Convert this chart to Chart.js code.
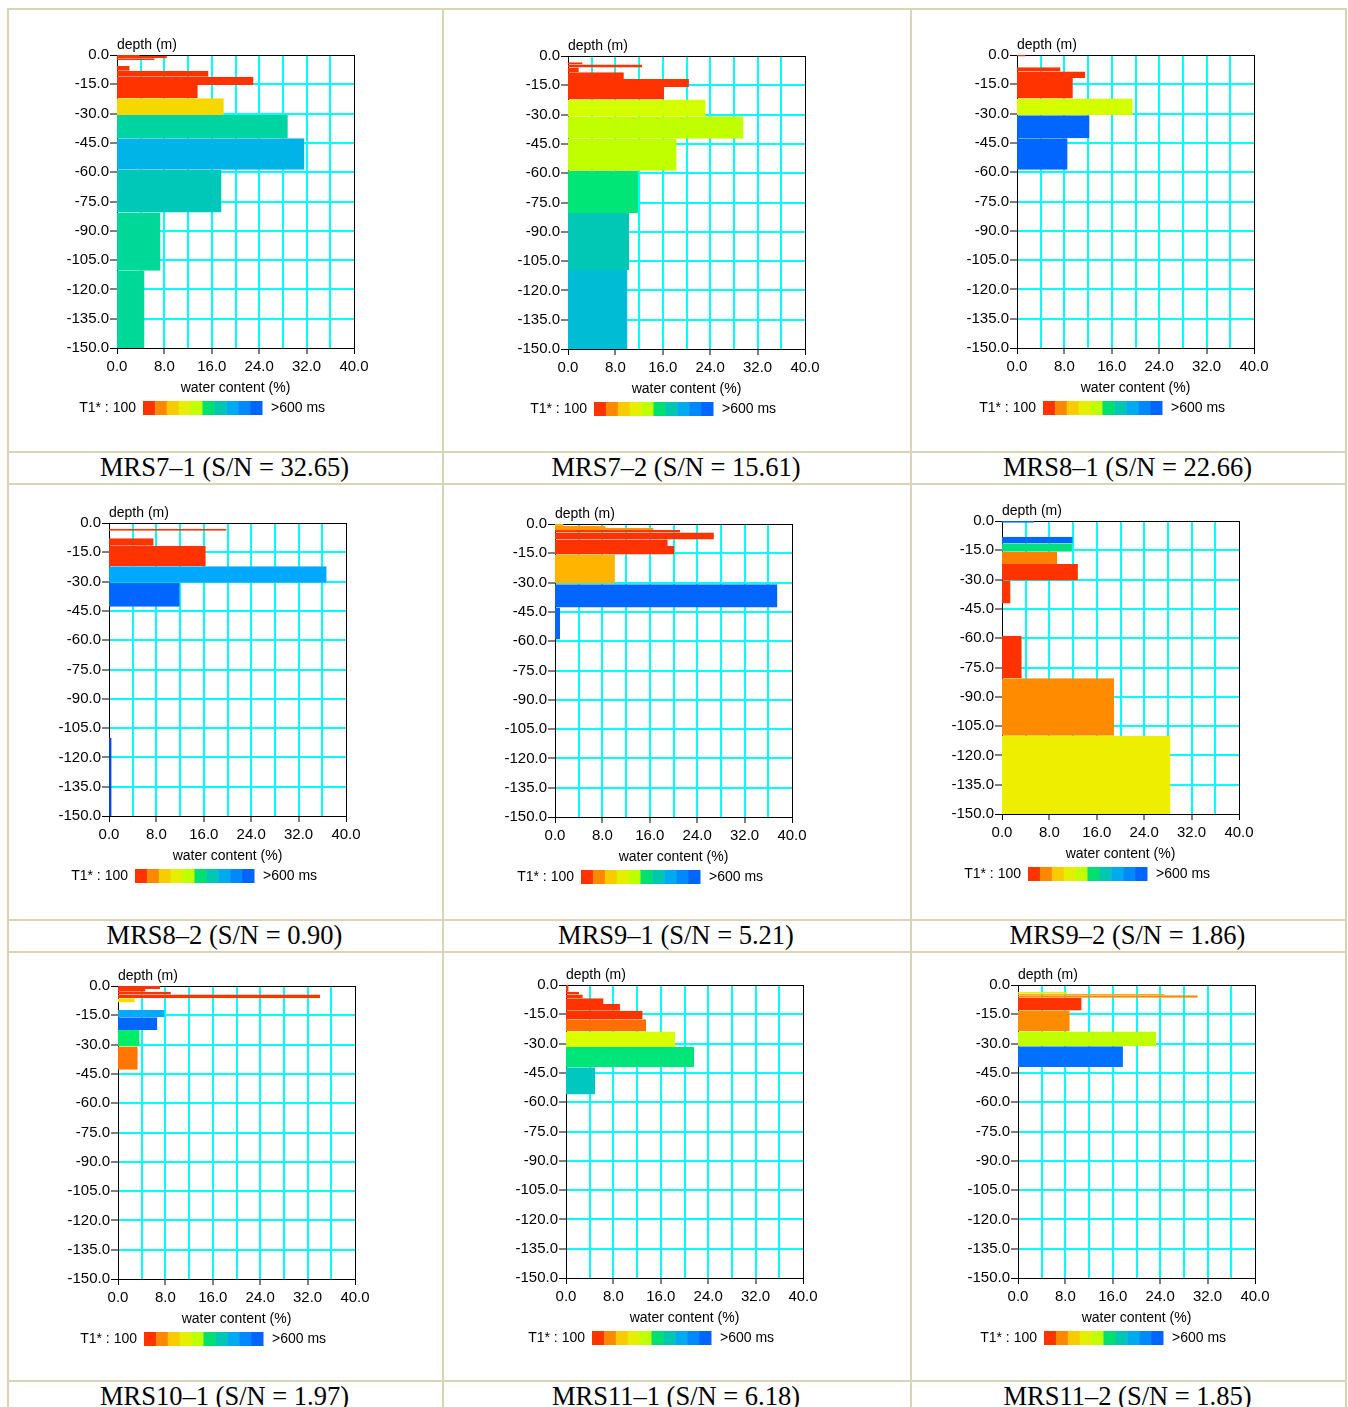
<!DOCTYPE html>
<html>
<head>
<meta charset="utf-8">
<script src="https://cdn.jsdelivr.net/npm/chart.js@4.4.1/dist/chart.umd.min.js"></script>
<style>
  body { margin: 0; background: #fff; }
  #page { position: relative; width: 1348px; height: 1407px; overflow: hidden; background: #fff; }
  .hl { position: absolute; height: 2px; background: #d8d4b8; }
  .vl { position: absolute; width: 2px; background: #d8d4b8; }
  .cap { position: absolute; height: 32px; line-height: 32px; text-align: center; color: #000;
         font-family: "Liberation Serif", "Times New Roman", serif; font-size: 26.5px; }
  canvas { position: absolute; }
</style>
</head>
<body>
<div id="page"></div>
<script>
// captions under each profile
const panelTitles = [
  "MRS7–1 (S/N = 32.65)", "MRS7–2 (S/N = 15.61)", "MRS8–1 (S/N = 22.66)",
  "MRS8–2 (S/N = 0.90)", "MRS9–1 (S/N = 5.21)", "MRS9–2 (S/N = 1.86)",
  "MRS10–1 (S/N = 1.97)", "MRS11–1 (S/N = 6.18)", "MRS11–2 (S/N = 1.85)"
];

// T1* colour scale, 100 ms ... >600 ms
const legendColours = ["#ff3300", "#ff8800", "#f8cc00", "#e4f000", "#c0ff00",
                       "#00e070", "#00c8b0", "#00aaf0", "#0088ff", "#0066ff"];

const xTicks = [0, 8, 16, 24, 32, 40];
const yTicks = [0, -15, -30, -45, -60, -75, -90, -105, -120, -135, -150];

// layers: top depth, bottom depth (m), water content (%), T1 colour
const mrs7_1Top    = [0, -0.5, -1.7, -5.6, -8.0, -11.1, -15.3, -22.1, -30.7, -42.6, -58.8, -80.6, -110.4];
const mrs7_1Bottom = [-0.5, -1.7, -2.6, -8.0, -11.1, -15.3, -22.1, -30.7, -42.6, -58.8, -80.6, -110.4, -150];
const mrs7_1Water  = [3.8, 8.4, 6.3, 2.1, 15.4, 23.0, 13.6, 18.0, 28.8, 31.6, 17.6, 7.3, 4.6];
const mrs7_1Colour = ["#ff3300", "#ff3300", "#ff3300", "#ff3300", "#ff3300", "#ff3300", "#ff3300",
                      "#f5d800", "#00d4a0", "#00b4e8", "#00c8b8", "#00d898", "#00d898"];

const mrs7_2Top    = [-3.2, -4.4, -5.9, -8.3, -11.8, -15.9, -22.3, -30.8, -42.3, -58.7, -80.4, -109.6];
const mrs7_2Bottom = [-4.4, -5.9, -8.3, -11.8, -15.9, -22.3, -30.8, -42.3, -58.7, -80.4, -109.6, -150];
const mrs7_2Water  = [2.4, 12.5, 1.8, 9.4, 20.4, 16.2, 23.2, 29.6, 18.3, 11.8, 10.3, 10.0];
const mrs7_2Colour = ["#ff3300", "#ff3300", "#ff3300", "#ff3300", "#ff3300", "#ff3300",
                      "#d4ff00", "#bfff00", "#bfff00", "#00e676", "#00c8b4", "#00bcd4"];

const mrs8_1Top    = [0, -6.3, -8.5, -11.8, -22.3, -30.8, -42.6];
const mrs8_1Bottom = [-0.8, -8.5, -11.8, -22.3, -30.8, -42.6, -58.7];
const mrs8_1Water  = [1.4, 7.3, 11.5, 9.4, 19.5, 12.2, 8.5];
const mrs8_1Colour = ["#ff3300", "#ff3300", "#ff3300", "#ff3300", "#d4ff00", "#0066ff", "#0066ff"];

const mrs8_2Top    = [-2.9, -7.8, -11.6, -22.1, -30.6, -110];
const mrs8_2Bottom = [-4.0, -11.6, -22.1, -30.6, -42.9, -150];
const mrs8_2Water  = [19.8, 7.5, 16.3, 36.7, 11.9, 0.4];
const mrs8_2Colour = ["#ff3300", "#ff3300", "#ff3300", "#00a8ff", "#0066ff", "#0044dd"];

const mrs9_1Top    = [0, -1.0, -2.1, -3.1, -4.3, -7.9, -11.3, -15.6, -30.8, -42.7];
const mrs9_1Bottom = [-1.0, -2.1, -3.1, -4.3, -7.9, -11.3, -15.6, -30.4, -42.7, -59.1];
const mrs9_1Water  = [1.4, 8.5, 16.6, 21.1, 26.8, 19.0, 20.1, 10.1, 37.5, 0.85];
const mrs9_1Colour = ["#ffb400", "#ff9900", "#ff9900", "#ff3300", "#ff3300", "#ff3300", "#ff3300",
                      "#ffb400", "#0066ff", "#0066ff"];

const mrs9_2Top    = [0, -8.0, -11.4, -15.7, -22.0, -30.5, -58.7, -80.5, -109.9];
const mrs9_2Bottom = [-0.85, -11.4, -15.7, -22.0, -30.5, -42.2, -80.5, -109.9, -150];
const mrs9_2Water  = [5.4, 11.9, 11.8, 9.3, 12.8, 1.4, 3.3, 18.9, 28.4];
const mrs9_2Colour = ["#0066ff", "#0066ff", "#00e080", "#ff8000", "#ff3300", "#ff3300", "#ff3300",
                      "#ff8c00", "#eeee00"];

const mrs10_1Top    = [0, -1.5, -3.0, -4.3, -6.3, -12.3, -16.0, -22.5, -31.0];
const mrs10_1Bottom = [-1.5, -3.0, -4.3, -6.3, -8.5, -16.0, -22.5, -31.0, -42.9];
const mrs10_1Water  = [7.1, 4.6, 8.9, 34.1, 2.8, 7.8, 6.6, 3.6, 3.3];
const mrs10_1Colour = ["#ff3300", "#ff3300", "#ff3300", "#ff3300", "#f0e000", "#00aaff", "#0066ff",
                       "#00ee66", "#ff7700"];

const mrs11_1Top    = [0, -3.4, -4.8, -6.8, -9.7, -13.2, -17.5, -23.8, -31.8, -42.1];
const mrs11_1Bottom = [-3.4, -4.8, -6.8, -9.7, -13.2, -17.5, -23.8, -31.8, -42.1, -56.0];
const mrs11_1Water  = [0.4, 2.2, 2.8, 6.3, 9.1, 12.9, 13.5, 18.4, 21.6, 4.9];
const mrs11_1Colour = ["#ff3300", "#ff3300", "#ff3300", "#ff3300", "#ff3300", "#ff3300",
                       "#ff7000", "#d8ff00", "#00e57a", "#00c8c0"];

const mrs11_2Top    = [-3.4, -4.5, -5.3, -6.5, -13.1, -23.8, -31.4];
const mrs11_2Bottom = [-4.5, -5.3, -6.5, -13.1, -23.8, -31.4, -42.0];
const mrs11_2Water  = [8.3, 24.7, 30.3, 10.7, 8.7, 23.3, 17.7];
const mrs11_2Colour = ["#eeee00", "#ffb000", "#ff8800", "#ff3300", "#ff8c00", "#c0ff00", "#0070ff"];

const tops    = [mrs7_1Top, mrs7_2Top, mrs8_1Top, mrs8_2Top, mrs9_1Top, mrs9_2Top, mrs10_1Top, mrs11_1Top, mrs11_2Top];
const bottoms = [mrs7_1Bottom, mrs7_2Bottom, mrs8_1Bottom, mrs8_2Bottom, mrs9_1Bottom, mrs9_2Bottom, mrs10_1Bottom, mrs11_1Bottom, mrs11_2Bottom];
const waters  = [mrs7_1Water, mrs7_2Water, mrs8_1Water, mrs8_2Water, mrs9_1Water, mrs9_2Water, mrs10_1Water, mrs11_1Water, mrs11_2Water];
const colours = [mrs7_1Colour, mrs7_2Colour, mrs8_1Colour, mrs8_2Colour, mrs9_1Colour, mrs9_2Colour, mrs10_1Colour, mrs11_1Colour, mrs11_2Colour];

// page layout
const page = document.querySelector("#page");
const plotOrigins = [[117, 55], [568, 56], [1017, 55],
                     [109, 523], [555, 524], [1002, 521],
                     [118, 986], [566, 985], [1018, 985]];
const colEdges = [7, 442, 910, 1345];
const rowLines = [8, 451, 483, 919, 951, 1380];
const captionRows = [451, 919, 1380];

rowLines.forEach((y) => {
    const d = document.createElement("div");
    d.className = "hl";
    d.style.left = "7px"; d.style.width = "1340px"; d.style.top = y + "px";
    page.appendChild(d);
});
colEdges.forEach((x) => {
    const d = document.createElement("div");
    d.className = "vl";
    d.style.left = x + "px"; d.style.top = "8px"; d.style.height = "1400px";
    page.appendChild(d);
});
panelTitles.forEach((t, i) => {
    const col = i % 3;
    const d = document.createElement("div");
    d.className = "cap";
    d.textContent = t;
    d.style.left = colEdges[col] + "px";
    d.style.width = (colEdges[col + 1] - colEdges[col]) + "px";
    d.style.top = captionRows[Math.floor(i / 3)] + "px";
    page.appendChild(d);
});

const FONT = '"Liberation Sans", Arial, sans-serif';
const CYAN = "#00ffff";

// labels outside the plot: axis names and colour legend
const decor = {
    id: "decor",
    afterDraw(chart) {
        const { ctx, chartArea: a } = chart;
        ctx.save();
        ctx.fillStyle = "#000";
        ctx.font = "14px " + FONT;
        ctx.textBaseline = "middle";
        ctx.textAlign = "left";
        ctx.fillText("depth (m)", a.left, a.top - 10);
        ctx.textAlign = "center";
        ctx.fillText("water content (%)", (a.left + a.right) / 2, a.bottom + 40);
        ctx.textAlign = "right";
        ctx.fillText("T1* : 100", a.left + 19, a.bottom + 60);
        const w = 119 / legendColours.length;
        legendColours.forEach((c, k) => {
            ctx.fillStyle = c;
            ctx.fillRect(a.left + 26 + k * w, a.bottom + 53, w + 0.5, 14);
        });
        ctx.fillStyle = "#000";
        ctx.textAlign = "left";
        ctx.fillText(">600 ms", a.left + 154, a.bottom + 60);
        ctx.restore();
    }
};

const buildChart = (i) => {
    const canvas = document.createElement("canvas");
    canvas.width = 337;
    canvas.height = 420;
    canvas.style.left = (plotOrigins[i][0] - 60) + "px";
    canvas.style.top = (plotOrigins[i][1] - 30) + "px";
    page.appendChild(canvas);

    const datasets = tops[i].map((t, k) => ({
        data: [{ x: waters[i][k], y: t }, { x: waters[i][k], y: bottoms[i][k] }],
        backgroundColor: colours[i][k],
        borderColor: colours[i][k],
        borderWidth: 0,
        pointRadius: 0,
        fill: "origin"
    }));

    new Chart(canvas, {
        type: "line",
        data: { datasets },
        plugins: [decor],
        options: {
            indexAxis: "y",
            responsive: false,
            devicePixelRatio: 1,
            animation: false,
            layout: { padding: { top: 30, right: 40, bottom: 67, left: 0 } },
            plugins: { legend: { display: false }, tooltip: { enabled: false } },
            scales: {
                x: {
                    type: "linear", min: 0, max: 40,
                    afterFit: (s) => { s.height = 30; },
                    border: { color: "#000", width: 1 },
                    grid: {
                        color: (c) => (c.tick && (c.tick.value === 0 || c.tick.value === 40)) ? "#000" : CYAN,
                        lineWidth: (c) => (c.tick && (c.tick.value === 0 || c.tick.value === 40)) ? 1 : 2,
                        tickColor: (c) => (c.tick && xTicks.includes(c.tick.value)) ? "#000" : "rgba(0,0,0,0)",
                        tickWidth: 1,
                        tickLength: 6
                    },
                    ticks: {
                        stepSize: 4, autoSkip: false, maxRotation: 0, padding: 4,
                        color: "#000", font: { family: FONT, size: 15 },
                        callback: (v) => xTicks.includes(v) ? v.toFixed(1) : ""
                    }
                },
                y: {
                    type: "linear", min: -150, max: 0,
                    afterFit: (s) => { s.width = 60; },
                    border: { color: "#000", width: 1 },
                    grid: {
                        color: (c) => (c.tick && (c.tick.value === 0 || c.tick.value === -150)) ? "#000" : CYAN,
                        lineWidth: (c) => (c.tick && (c.tick.value === 0 || c.tick.value === -150)) ? 1 : 2,
                        tickColor: "#000",
                        tickWidth: 1,
                        tickLength: 7
                    },
                    ticks: {
                        stepSize: 15, autoSkip: false, padding: 1,
                        color: "#000", font: { family: FONT, size: 15 },
                        callback: (v) => yTicks.includes(v) ? v.toFixed(1) : ""
                    }
                }
            }
        }
    });
};

panelTitles.forEach((t, i) => buildChart(i));
</script>
</body>
</html>
